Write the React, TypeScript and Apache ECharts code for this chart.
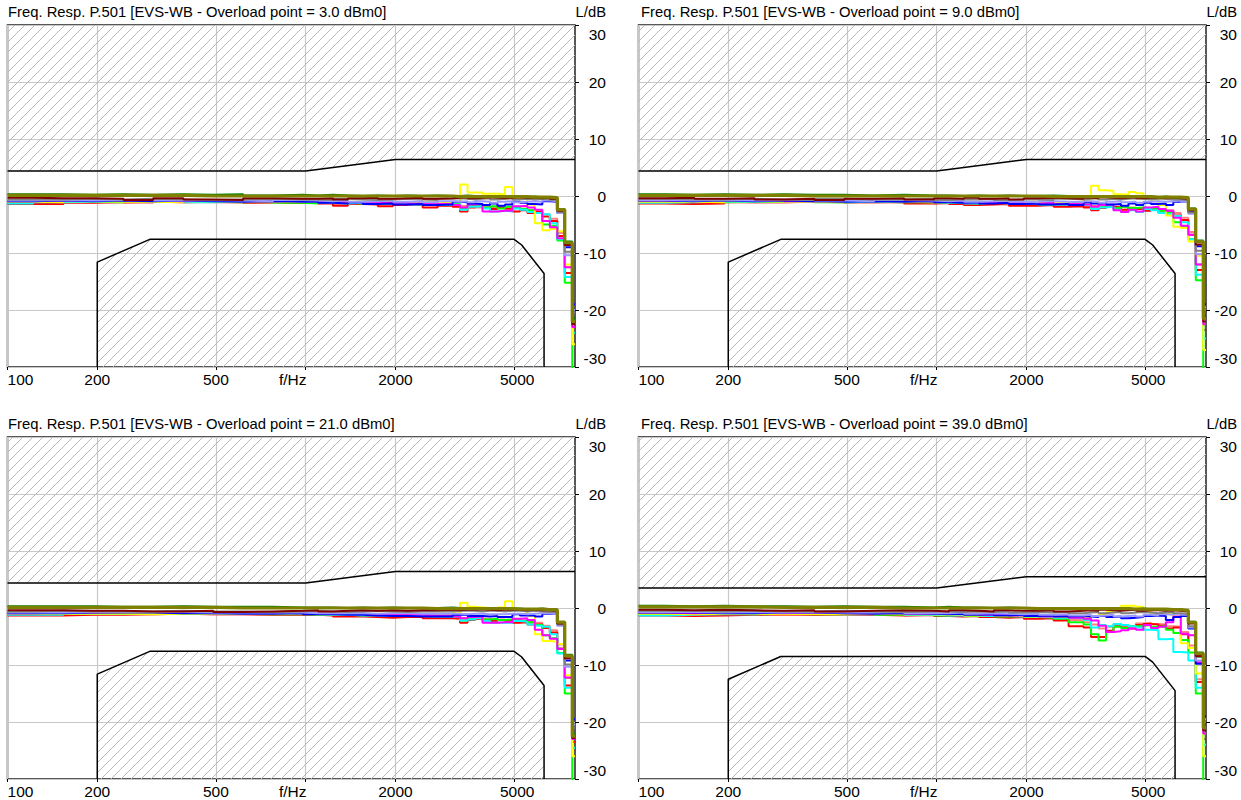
import React, { useEffect, useRef } from 'react';
import * as echarts from 'echarts';

// ---------- axes / layout constants ----------
const F_MIN = 100;
const F_MAX = 8000;
const TICK_HZ = [100, 200, 500, 1000, 2000, 5000];
const FREQ_AXIS_NAME = 'f/Hz';
const Y_MIN = -30;
const Y_MAX = 30;
const Y_STEP = 10;
const OVERLOAD = ['3.0', '9.0', '21.0', '39.0'];

// bin start frequencies (Hz) of the measured step responses
const BIN_HZ = [
  100, 122, 154, 194, 245, 308, 389, 490, 617, 777,
  979, 1100, 1234, 1385, 1554, 1745, 1959, 2198, 2467, 2769,
  3108, 3293, 3489, 3696, 3916, 4149, 4396, 4657, 4934, 5227, 5538, 5867, 6216, 6586, 6977, 7392, 7832,
];

// ---------- tolerance masks ----------
const UPPER_MASK_HZ = [100, 1000, 2000, 8000];
const UPPER_MASK_A = [4.4, 4.4, 6.4, 6.4];
const UPPER_MASK_B = [3.5, 3.5, 5.5, 5.5];
const LOWER_MASK_HZ = [200, 200, 300, 5000, 5300, 6300, 6300];
const LOWER_MASK_A = [-30, -11.6, -7.6, -7.6, -8.6, -13.6, -30];
const LOWER_MASK_B = [-30, -12.5, -8.5, -8.5, -9.5, -14.5, -30];

// ---------- panel 1 (3.0 dBm0) ----------
const P1_SALMON = [-1.2,-1.0,-1.1,-1.0,-1.2,-0.9,-1.1,-1.2,-1.0,-1.1, -1.2,-1.0,-1.4,-1.2,-1.3,-1.2,-1.4,-1.3,-1.6,-1.5, -1.7,-1.8,-1.6,-2.0,-1.8,-2.1,-1.9,-2.3,-2.0,-2.2,-2.4,-2.6,-3.2,-4.0,-6.5,-12.5,-22.0];
const P1_RED = [-1.4,-1.4,-1.2,-1.1,-1.0,-1.1,-1.0,-1.0,-1.2,-1.2, -1.1,-1.3,-1.7,-1.4,-1.5,-1.8,-1.6,-1.5,-2.0,-1.7, -1.9,-2.7,-2.0,-1.8,-2.1,-2.3,-2.0,-2.2,-2.7,-2.5,-3.0,-2.8,-3.6,-4.4,-7.0,-13.5,-23.0];
const P1_GREEN = [-1.0,-0.9,-1.0,-1.1,-0.9,-1.0,-1.0,-1.1,-1.0,-1.2, -1.3,-1.1,-1.2,-1.3,-1.1,-1.4,-1.2,-1.4,-1.3,-1.6, -1.4,-2.3,-1.6,-1.5,-2.0,-1.8,-2.2,-1.9,-2.0,-2.3,-2.5,-3.0,-5.0,-5.2,-7.8,-15.2,-33.0];
const P1_CYAN = [-1.3,-1.1,-1.0,-0.9,-1.0,-0.9,-1.1,-1.0,-1.1,-1.0, -1.1,-1.2,-1.3,-1.2,-1.4,-1.3,-1.3,-1.5,-1.4,-1.5, -1.5,-2.4,-1.9,-1.8,-2.2,-2.7,-2.6,-2.7,-2.2,-2.4,-2.8,-3.0,-3.2,-4.8,-7.6,-14.2,-24.0];
const P1_YELLOW = [-1.0,-1.1,-0.9,-1.0,-1.0,-1.1,-0.9,-1.0,-1.1,-1.0, -1.0,-1.1,-1.2,-1.0,-1.1,-0.9,-1.1,-1.2,-1.0,-1.1, -1.0,2.0,0.6,0.6,0.4,0.4,0.3,1.6,-0.3,-0.5,-1.5,-4.8,-6.0,-5.8,-6.2,-12.0,-26.0];
const P1_MAGENTA = [-0.9,-0.8,-0.7,-0.6,-0.8,-0.9,-0.8,-0.7,-0.9,-0.8, -0.9,-1.0,-0.9,-1.1,-1.0,-1.2,-1.1,-1.3,-1.2,-1.4, -1.6,-2.0,-1.5,-1.4,-2.7,-2.7,-2.6,-2.6,-1.8,-1.7,-2.0,-2.4,-4.4,-5.5,-7.4,-12.5,-23.0];
const P1_BLUE = [-0.9,-0.8,-0.9,-0.8,-0.9,-0.8,-0.9,-1.0,-0.9,-1.0, -1.0,-1.2,-1.3,-1.1,-1.4,-1.3,-1.5,-1.4,-1.6,-1.5, -1.0,-1.1,-1.3,-1.4,-1.6,-1.3,-1.7,-1.5,-1.0,-1.2,-1.4,-1.5,-0.9,-1.0,-3.0,-9.0,-19.0];
const P1_LAVENDER = [-0.8,-0.7,-0.8,-0.7,-0.6,-0.8,-0.7,-0.8,-0.9,-0.7, -0.8,-0.9,-0.8,-1.0,-0.9,-0.8,-1.0,-0.9,-1.1,-0.9, -1.0,-0.9,-1.1,-0.9,-1.0,-1.2,-1.0,-0.9,-1.1,-1.0,-0.9,-1.0,-0.8,-0.9,-3.0,-10.4,-20.0];
const P1_GRAY = [-0.6,-0.6,-0.5,-0.6,-0.5,-0.6,-0.7,-0.6,-0.5,-0.6, -0.6,-0.7,-0.5,-0.6,-0.7,-0.6,-0.5,-0.6,-0.7,-0.5, -0.4,-0.5,-0.6,-0.5,-0.4,-0.6,-0.5,-0.4,-0.6,-0.5,-0.6,-0.5,-0.6,-0.7,-2.8,-9.8,-20.5];
const P1_DARKRED = [-0.3,-0.4,-0.4,-0.5,-0.7,-0.4,-0.6,-0.7,-0.4,-0.5, -0.5,-0.4,-0.6,-0.4,-0.3,-0.5,-0.4,-0.3,-0.5,-0.4, -0.3,-0.2,-0.4,-0.3,-0.2,-0.3,-0.4,-0.3,-0.2,-0.3,-0.3,-0.4,-0.3,-0.5,-2.6,-8.6,-22.5];
const P1_DARKGREEN = [0.3,0.3,0.2,0.3,0.2,0.3,0.2,0.3,0.1,0.2, 0.1,0.2,0.1,0.0,0.1,0.0,0.1,0.0,0.1,0.0, 0.0,0.1,0.0,-0.1,0.0,-0.1,0.0,-0.1,-0.1,-0.2,-0.1,-0.2,-0.2,-0.3,-2.3,-8.0,-21.5];
const P1_OLIVE = [0.1,0.1,0.1,0.1,0.1,0.1,0.0,0.0,0.0,0.0, 0.0,0.0,0.0,0.0,0.0,0.0,0.0,0.0,0.0,0.0, -0.1,-0.1,-0.1,-0.1,-0.1,-0.1,-0.1,-0.1,-0.1,-0.1,-0.2,-0.2,-0.2,-0.3,-2.4,-8.2,-22.0];

// ---------- panel 2 (9.0 dBm0) ----------
const P2_SALMON = [-1.1,-1.1,-1.0,-1.1,-1.1,-1.0,-1.0,-1.2,-1.1,-1.0, -1.3,-1.1,-1.3,-1.3,-1.2,-1.3,-1.5,-1.4,-1.5,-1.6, -1.8,-1.7,-1.7,-1.9,-1.9,-2.0,-2.0,-2.2,-2.1,-2.1,-2.5,-2.5,-3.0,-3.8,-6.3,-12.0,-22.0];
const P2_RED = [-1.3,-1.4,-1.3,-1.1,-1.1,-1.0,-1.1,-1.0,-1.1,-1.3, -1.2,-1.4,-1.6,-1.5,-1.4,-1.7,-1.7,-1.6,-1.9,-1.8, -2.0,-2.5,-2.1,-1.9,-2.0,-2.4,-2.1,-2.3,-2.6,-2.4,-2.9,-2.7,-3.4,-4.2,-6.8,-13.0,-23.5];
const P2_GREEN = [-0.9,-1.0,-1.1,-1.0,-1.0,-0.9,-1.1,-1.0,-1.1,-1.1, -1.2,-1.2,-1.3,-1.2,-1.2,-1.3,-1.3,-1.5,-1.4,-1.5, -1.5,-2.2,-1.7,-1.6,-2.1,-1.9,-2.1,-2.0,-2.1,-2.2,-2.6,-2.9,-4.6,-5.4,-7.6,-14.8,-32.0];
const P2_CYAN = [-1.2,-1.1,-1.0,-1.0,-0.9,-1.0,-1.1,-1.0,-1.0,-1.1, -1.2,-1.1,-1.3,-1.2,-1.3,-1.4,-1.3,-1.5,-1.5,-1.6, -1.6,-2.3,-2.0,-1.9,-2.4,-2.8,-2.5,-2.8,-2.3,-2.5,-3.0,-3.2,-3.5,-4.6,-7.6,-13.8,-25.0];
const P2_YELLOW = [-1.0,-1.0,-1.1,-0.9,-1.0,-1.0,-1.1,-0.9,-1.0,-1.1, -1.1,-1.0,-1.1,-1.2,-1.0,-1.1,-1.0,-1.2,-1.1,-1.0, -0.8,1.8,1.0,0.9,0.3,0.2,0.7,0.5,-0.4,-0.6,-1.6,-3.4,-5.4,-5.6,-8.0,-10.5,-27.0];
const P2_MAGENTA = [-0.8,-0.9,-0.7,-0.8,-0.7,-0.9,-0.8,-0.9,-0.8,-0.9, -1.0,-0.9,-1.1,-1.0,-1.2,-1.1,-1.3,-1.2,-1.4,-1.3, -1.5,-1.9,-1.6,-1.5,-2.5,-2.8,-2.4,-2.7,-2.0,-1.9,-2.3,-2.6,-3.8,-5.2,-6.8,-12.0,-22.5];
const P2_BLUE = [-0.8,-0.9,-0.8,-0.9,-0.8,-0.9,-1.0,-0.9,-1.0,-0.9, -1.1,-1.2,-1.1,-1.3,-1.2,-1.4,-1.3,-1.5,-1.4,-1.6, -1.1,-1.3,-1.2,-1.5,-1.4,-1.7,-1.3,-1.6,-1.2,-1.4,-1.3,-1.6,-1.0,-0.9,-2.8,-8.8,-19.0];
const P2_LAVENDER = [-0.7,-0.8,-0.7,-0.8,-0.7,-0.6,-0.8,-0.9,-0.7,-0.8, -0.9,-0.8,-1.0,-0.9,-0.8,-1.0,-1.1,-0.9,-1.0,-1.1, -0.9,-1.0,-1.2,-1.0,-0.9,-1.1,-1.0,-1.2,-1.0,-0.9,-1.0,-0.9,-0.8,-1.0,-3.1,-10.2,-19.5];
const P2_GRAY = [-0.5,-0.6,-0.6,-0.5,-0.6,-0.7,-0.5,-0.6,-0.6,-0.5, -0.7,-0.6,-0.6,-0.5,-0.7,-0.6,-0.6,-0.7,-0.5,-0.6, -0.5,-0.4,-0.6,-0.5,-0.6,-0.5,-0.4,-0.5,-0.6,-0.5,-0.5,-0.6,-0.6,-0.7,-2.9,-9.6,-20.0];
const P2_DARKRED = [-0.4,-0.3,-0.5,-0.4,-0.6,-0.5,-0.7,-0.5,-0.4,-0.6, -0.4,-0.5,-0.3,-0.5,-0.4,-0.6,-0.4,-0.3,-0.4,-0.5, -0.3,-0.4,-0.2,-0.3,-0.4,-0.3,-0.2,-0.4,-0.3,-0.3,-0.4,-0.3,-0.4,-0.5,-2.5,-8.5,-22.0];
const P2_DARKGREEN = [0.3,0.2,0.3,0.2,0.3,0.2,0.2,0.1,0.2,0.1, 0.1,0.0,0.1,0.0,0.1,0.0,0.0,0.1,0.0,0.0, 0.0,-0.1,0.0,-0.1,0.0,-0.1,-0.1,0.0,-0.1,-0.2,-0.1,-0.2,-0.2,-0.3,-2.2,-7.8,-21.0];
const P2_OLIVE = [0.1,0.1,0.1,0.1,0.1,0.0,0.0,0.0,0.0,0.0, 0.0,0.0,0.0,0.0,0.0,0.0,0.0,-0.1,-0.1,-0.1, -0.1,-0.1,-0.1,-0.1,-0.1,-0.1,-0.1,-0.1,-0.1,-0.2,-0.2,-0.2,-0.2,-0.3,-2.3,-8.0,-21.5];

// ---------- panel 3 (21.0 dBm0) ----------
const P3_SALMON = [-1.1,-1.1,-1.1,-1.0,-1.1,-1.0,-1.1,-1.1,-1.1,-1.1, -1.2,-1.1,-1.3,-1.3,-1.3,-1.3,-1.4,-1.4,-1.5,-1.5, -1.7,-1.8,-1.7,-1.9,-1.9,-2.0,-2.0,-2.2,-2.1,-2.2,-2.4,-2.6,-3.1,-3.9,-6.4,-12.3,-22.0];
const P3_RED = [-1.3,-1.3,-1.2,-1.2,-1.1,-1.0,-1.1,-1.1,-1.2,-1.2, -1.2,-1.3,-1.5,-1.5,-1.6,-1.7,-1.6,-1.6,-1.8,-1.8, -1.9,-2.6,-2.1,-1.9,-2.1,-2.3,-2.1,-2.3,-2.6,-2.5,-2.9,-2.9,-3.5,-4.3,-7.1,-13.6,-23.5];
const P3_GREEN = [-1.0,-1.0,-1.0,-1.0,-1.0,-1.0,-1.0,-1.0,-1.1,-1.1, -1.2,-1.2,-1.2,-1.3,-1.2,-1.3,-1.3,-1.4,-1.4,-1.5, -1.5,-2.2,-1.7,-1.6,-2.0,-1.9,-2.1,-2.0,-2.0,-2.3,-2.5,-3.0,-4.8,-5.3,-7.9,-15.0,-33.0];
const P3_CYAN = [-1.2,-1.2,-1.0,-1.0,-1.0,-0.9,-1.0,-1.0,-1.0,-1.0, -1.1,-1.2,-1.2,-1.3,-1.3,-1.4,-1.4,-1.4,-1.5,-1.5, -1.5,-2.2,-2.0,-1.8,-2.3,-2.6,-2.6,-2.6,-2.3,-2.4,-2.9,-3.1,-3.3,-4.6,-8.0,-14.0,-24.5];
const P3_YELLOW = [-1.0,-1.0,-1.0,-1.0,-1.1,-1.0,-1.0,-1.0,-1.0,-1.0, -1.1,-1.1,-1.1,-1.1,-1.0,-1.0,-1.1,-1.1,-1.1,-1.1, -0.9,0.9,0.2,0.1,0.0,-0.1,0.1,1.2,-0.2,-0.4,-1.4,-4.6,-5.8,-5.9,-6.3,-11.8,-26.0];
const P3_MAGENTA = [-0.9,-0.8,-0.8,-0.7,-0.7,-0.8,-0.9,-0.8,-0.8,-0.9, -0.9,-1.0,-1.0,-1.0,-1.1,-1.1,-1.2,-1.2,-1.3,-1.3, -1.5,-1.8,-1.6,-1.5,-2.6,-2.6,-2.5,-2.5,-1.9,-1.8,-2.1,-3.8,-4.8,-5.4,-7.2,-12.2,-23.0];
const P3_BLUE = [-0.9,-0.9,-0.8,-0.8,-0.8,-0.9,-0.9,-1.0,-1.0,-0.9, -1.1,-1.1,-1.2,-1.2,-1.3,-1.4,-1.4,-1.5,-1.5,-1.5, -1.2,-1.2,-1.4,-1.4,-1.5,-1.4,-1.6,-1.6,-1.1,-1.3,-1.3,-1.5,-1.0,-0.9,-2.9,-9.2,-19.5];
const P3_LAVENDER = [-0.8,-0.8,-0.7,-0.7,-0.7,-0.7,-0.8,-0.8,-0.8,-0.8, -0.9,-0.9,-0.9,-0.9,-1.0,-0.9,-0.9,-1.0,-1.0,-1.0, -1.0,-1.1,-1.0,-1.0,-1.1,-1.1,-1.1,-1.0,-1.0,-1.1,-1.0,-0.9,-0.9,-0.9,-3.1,-10.3,-20.5];
const P3_GRAY = [-0.6,-0.5,-0.6,-0.6,-0.6,-0.5,-0.6,-0.6,-0.7,-0.6, -0.5,-0.6,-0.7,-0.6,-0.5,-0.6,-0.7,-0.6,-0.6,-0.6, -0.5,-0.5,-0.5,-0.6,-0.5,-0.5,-0.6,-0.5,-0.5,-0.6,-0.5,-0.6,-0.7,-0.7,-2.9,-9.9,-21.0];
const P3_DARKRED = [-0.4,-0.4,-0.5,-0.5,-0.6,-0.6,-0.5,-0.7,-0.6,-0.5, -0.4,-0.6,-0.5,-0.4,-0.5,-0.4,-0.5,-0.4,-0.4,-0.3, -0.4,-0.3,-0.3,-0.2,-0.3,-0.4,-0.3,-0.3,-0.3,-0.4,-0.3,-0.4,-0.4,-0.5,-2.7,-8.8,-22.8];
const P3_DARKGREEN = [0.3,0.3,0.3,0.2,0.2,0.3,0.2,0.2,0.2,0.1, 0.1,0.1,0.0,0.1,0.0,0.1,0.0,0.0,0.0,0.1, 0.0,0.0,-0.1,0.0,-0.1,0.0,-0.1,-0.1,-0.1,-0.2,-0.2,-0.1,-0.2,-0.3,-2.4,-8.2,-22.0];
const P3_OLIVE = [0.1,0.1,0.1,0.1,0.1,0.1,0.1,0.0,0.0,0.0, 0.0,0.0,0.0,0.0,0.0,0.0,0.0,0.0,-0.1,-0.1, -0.1,-0.1,-0.1,-0.1,-0.1,-0.1,-0.1,-0.1,-0.2,-0.2,-0.2,-0.2,-0.3,-0.3,-2.5,-8.4,-22.5];

// ---------- panel 4 (39.0 dBm0) ----------
const P4_SALMON = [-1.2,-1.1,-1.2,-1.1,-1.2,-1.1,-1.2,-1.2,-1.1,-1.3, -1.3,-1.4,-1.3,-1.5,-1.5,-1.6,-1.7,-1.6,-1.9,-2.1, -2.5,-2.9,-3.6,-3.3,-2.8,-3.1,-3.2,-2.7,-2.6,-2.8,-2.9,-3.2,-3.3,-4.2,-6.6,-12.5,-22.0];
const P4_RED = [-1.3,-1.4,-1.3,-1.2,-1.1,-1.2,-1.1,-1.2,-1.3,-1.2, -1.4,-1.5,-1.4,-1.6,-1.7,-1.6,-1.9,-1.8,-2.2,-3.2, -3.4,-5.1,-5.1,-4.0,-3.2,-3.4,-3.6,-3.0,-2.8,-2.9,-3.1,-3.6,-3.4,-4.6,-7.0,-13.0,-23.0];
const P4_GREEN = [-1.1,-1.0,-1.0,-1.1,-1.0,-1.1,-1.1,-1.0,-1.2,-1.1, -1.3,-1.2,-1.4,-1.3,-1.5,-1.4,-1.6,-1.7,-1.9,-2.5, -2.9,-4.6,-5.7,-4.2,-3.3,-3.5,-3.2,-3.1,-3.0,-3.3,-3.2,-3.8,-4.4,-5.6,-7.8,-15.0,-32.0];
const P4_CYAN = [-1.3,-1.2,-1.1,-1.1,-1.0,-1.0,-1.1,-1.1,-1.0,-1.2, -1.3,-1.3,-1.2,-1.4,-1.4,-1.5,-1.6,-1.5,-1.7,-1.8, -2.1,-3.4,-3.0,-3.2,-2.8,-3.0,-3.2,-3.4,-3.8,-3.9,-5.5,-5.4,-7.7,-7.8,-9.2,-14.0,-24.0];
const P4_YELLOW = [-1.0,-1.1,-1.0,-1.0,-1.1,-1.0,-1.1,-1.0,-1.1,-1.1, -1.2,-1.1,-1.3,-1.2,-1.4,-1.3,-1.5,-1.4,-1.6,-1.5, -1.7,-1.4,-1.2,-0.6,-0.4,0.4,0.4,0.2,-0.6,-1.2,-1.0,-1.1,-1.5,-6.2,-7.0,-11.5,-26.0];
const P4_MAGENTA = [-0.8,-0.9,-0.8,-0.8,-0.9,-0.8,-0.9,-0.9,-0.8,-1.0, -1.0,-1.1,-1.0,-1.2,-1.1,-1.3,-1.2,-1.5,-1.4,-1.7, -1.9,-2.2,-3.1,-4.2,-4.1,-3.9,-3.6,-3.8,-3.0,-3.5,-3.3,-2.5,-1.5,-4.5,-4.8,-9.5,-22.0];
const P4_BLUE = [-0.8,-0.8,-0.9,-0.9,-0.8,-0.8,-0.9,-1.0,-0.9,-1.0, -1.1,-1.0,-1.2,-1.1,-1.3,-1.2,-1.4,-1.3,-1.5,-1.4, -1.5,-1.6,-1.4,-1.6,-1.5,-1.8,-1.7,-1.6,-1.4,-1.3,-1.4,-2.1,-1.6,-1.4,-3.6,-9.8,-19.0];
const P4_LAVENDER = [-0.7,-0.7,-0.8,-0.7,-0.8,-0.7,-0.8,-0.8,-0.7,-0.9, -0.9,-0.8,-1.0,-0.9,-1.0,-1.1,-1.0,-1.2,-1.1,-1.3, -1.2,-1.4,-1.3,-1.2,-1.5,-1.4,-1.3,-1.5,-1.2,-1.3,-1.1,-1.2,-1.0,-1.2,-3.4,-9.2,-19.5];
const P4_GRAY = [-0.5,-0.5,-0.6,-0.5,-0.6,-0.6,-0.5,-0.6,-0.7,-0.6, -0.6,-0.7,-0.6,-0.7,-0.6,-0.8,-0.7,-0.8,-0.7,-0.9, -0.8,-0.7,-0.9,-0.8,-0.7,-0.9,-0.8,-0.7,-0.8,-0.9,-0.8,-0.7,-0.9,-1.0,-3.2,-8.6,-20.0];
const P4_DARKRED = [-0.3,-0.4,-0.3,-0.4,-0.5,-0.4,-0.6,-0.5,-0.4,-0.5, -0.6,-0.4,-0.5,-0.6,-0.4,-0.5,-0.5,-0.4,-0.6,-0.5, -0.4,-0.5,-0.3,-0.4,-0.5,-0.4,-0.3,-0.5,-0.4,-0.4,-0.5,-0.4,-0.5,-0.6,-2.7,-8.4,-21.5];
const P4_DARKGREEN = [0.4,0.3,0.4,0.3,0.3,0.2,0.3,0.2,0.2,0.1, 0.2,0.1,0.1,0.0,0.1,0.0,0.0,-0.1,0.0,-0.1, -0.1,0.0,-0.1,-0.1,0.0,-0.1,-0.2,-0.1,-0.2,-0.2,-0.3,-0.2,-0.3,-0.4,-2.4,-7.8,-20.5];
const P4_OLIVE = [0.2,0.2,0.2,0.2,0.1,0.1,0.1,0.1,0.0,0.0, 0.0,0.0,0.0,0.0,0.0,0.0,-0.1,-0.1,-0.1,-0.1, -0.1,-0.1,-0.1,-0.1,-0.1,-0.1,-0.2,-0.2,-0.2,-0.2,-0.2,-0.3,-0.3,-0.4,-2.5,-8.0,-21.0];

// draw order and styling of the measurement curves
const CURVE_COLORS = ['#ff8080', '#ff0000', '#00ff00', '#00ffff', '#ffff00', '#ff00ff', '#0000ff', '#9999ff', '#808080', '#800000', '#008000', '#808000'];
const CURVE_WIDTHS = [2, 2, 2, 2, 2, 2, 2, 2, 2, 2, 2, 3.2];

const PANELS = [
  [P1_SALMON, P1_RED, P1_GREEN, P1_CYAN, P1_YELLOW, P1_MAGENTA, P1_BLUE, P1_LAVENDER, P1_GRAY, P1_DARKRED, P1_DARKGREEN, P1_OLIVE],
  [P2_SALMON, P2_RED, P2_GREEN, P2_CYAN, P2_YELLOW, P2_MAGENTA, P2_BLUE, P2_LAVENDER, P2_GRAY, P2_DARKRED, P2_DARKGREEN, P2_OLIVE],
  [P3_SALMON, P3_RED, P3_GREEN, P3_CYAN, P3_YELLOW, P3_MAGENTA, P3_BLUE, P3_LAVENDER, P3_GRAY, P3_DARKRED, P3_DARKGREEN, P3_OLIVE],
  [P4_SALMON, P4_RED, P4_GREEN, P4_CYAN, P4_YELLOW, P4_MAGENTA, P4_BLUE, P4_LAVENDER, P4_GRAY, P4_DARKRED, P4_DARKGREEN, P4_OLIVE],
];
const PANEL_UPPER = [UPPER_MASK_A, UPPER_MASK_A, UPPER_MASK_A, UPPER_MASK_B];
const PANEL_LOWER = [LOWER_MASK_A, LOWER_MASK_A, LOWER_MASK_A, LOWER_MASK_B];

// layout
const GRID_LEFT = [7.5, 638.5, 7.5, 638.5];
const GRID_TOP = [25, 25, 437, 437];
const GRID_W = 567.5;
const GRID_H = 342;
const TITLE_LEFT = [8, 641, 8, 641];
const TITLE_TOP = [4, 4, 416, 416];
const UNIT_RIGHT = [635, 4, 635, 4];

const FONT = '"Liberation Sans", Arial, Helvetica, sans-serif';
const GRID_COLOR = '#c8c8c8';
const HATCH_COLOR = '#b8b8b8';

function makeHatch(): HTMLCanvasElement {
  const c = document.createElement('canvas');
  c.width = 10;
  c.height = 10;
  const ctx = c.getContext('2d');
  if (ctx) {
    ctx.strokeStyle = HATCH_COLOR;
    ctx.lineWidth = 1;
    ctx.beginPath();
    ctx.moveTo(0, 10);
    ctx.lineTo(10, 0);
    ctx.stroke();
  }
  return c;
}

export default function App() {
  const ref = useRef<HTMLDivElement>(null);

  useEffect(() => {
    if (!ref.current) return;
    const chart = echarts.init(ref.current, null, { renderer: 'svg', width: 1241, height: 800 });
    const hatch = makeHatch();
    const pattern: any = { image: hatch, repeat: 'repeat', imageWidth: 10, imageHeight: 10 };
    const tickExp = TICK_HZ.map((f) => Math.log10(f));

    const txt = (extra: any = {}) => ({ fontSize: 15.5, fontFamily: FONT, color: '#000', ...extra });

    const grids: any[] = [];
    const xAxes: any[] = [];
    const yAxes: any[] = [];
    const series: any[] = [];
    const titles: any[] = [];

    for (let p = 0; p < 4; p++) {
      grids.push({
        left: GRID_LEFT[p], top: GRID_TOP[p], width: GRID_W, height: GRID_H,
        show: true, borderColor: '#222', borderWidth: 1.5, backgroundColor: 'transparent',
        containLabel: false, outerBoundsMode: 'none',
      });
      // data axis (log frequency), hidden
      xAxes.push({
        type: 'log', logBase: 10, gridIndex: p, min: F_MIN, max: F_MAX, show: false, position: 'top',
      });
      // visible tick/label/grid axis on log10(f)
      xAxes.push({
        type: 'value', gridIndex: p, position: 'bottom',
        min: Math.log10(F_MIN), max: Math.log10(F_MAX),
        axisLine: { show: false },
        axisTick: { show: true, customValues: tickExp, length: 3, lineStyle: { color: '#000' } },
        splitLine: { show: true, lineStyle: { color: GRID_COLOR, width: 1.2 } },
        axisLabel: {
          customValues: tickExp, margin: 4, showMinLabel: true, showMaxLabel: true, hideOverlap: false,
          formatter: (v: number) => {
            const hz = Math.round(Math.pow(10, v));
            if (hz === 100) return '{l|100}';
            if (hz === 1000) return '{c|' + FREQ_AXIS_NAME + '}';
            if (hz === 5000) return '{r|5000}';
            return '{n|' + hz + '}';
          },
          rich: {
            n: txt(),
            l: txt({ padding: [0, 0, 0, 26] }),
            c: txt({ padding: [0, 26, 0, 0] }),
            r: txt({ padding: [0, 0, 0, 6] }),
          },
        },
      });
      yAxes.push({
        type: 'value', gridIndex: p, position: 'right', min: Y_MIN, max: Y_MAX, interval: Y_STEP,
        axisLine: { show: false },
        axisTick: { show: true, length: 4, lineStyle: { color: '#000' } },
        splitLine: { show: true, lineStyle: { color: GRID_COLOR, width: 1.2 } },
        axisLabel: {
          align: 'right', margin: 31, showMinLabel: true, showMaxLabel: true,
          formatter: (v: number) => {
            if (v === Y_MAX) return '{t|' + v + '}';
            if (v === Y_MIN) return '{b|' + v + '}';
            return '{n|' + v + '}';
          },
          rich: {
            n: txt(),
            t: txt({ padding: [18, 0, 0, 0] }),
            b: txt({ padding: [0, 0, 18, 0] }),
          },
        },
      });

      titles.push({
        text: 'Freq. Resp. P.501 [EVS-WB - Overload point = ' + OVERLOAD[p] + ' dBm0]',
        left: TITLE_LEFT[p], top: TITLE_TOP[p], padding: 0,
        textStyle: { fontSize: 14.8, fontWeight: 'normal', fontFamily: FONT, color: '#000' },
      });
      titles.push({
        text: 'L/dB', right: UNIT_RIGHT[p], top: TITLE_TOP[p], padding: 0,
        textStyle: { fontSize: 14.8, fontWeight: 'normal', fontFamily: FONT, color: '#000' },
      });

      // masks
      const up = PANEL_UPPER[p];
      series.push({
        type: 'line', xAxisIndex: 2 * p, yAxisIndex: p, silent: true, symbol: 'none', z: 1,
        data: UPPER_MASK_HZ.map((f, i) => [f, up[i]]),
        lineStyle: { color: '#000', width: 1.5 },
        areaStyle: { color: pattern, origin: 'end', opacity: 1 },
      });
      const lo = PANEL_LOWER[p];
      series.push({
        type: 'line', xAxisIndex: 2 * p, yAxisIndex: p, silent: true, symbol: 'none', z: 1,
        data: LOWER_MASK_HZ.map((f, i) => [f, lo[i]]),
        lineStyle: { color: '#000', width: 1.5 },
        areaStyle: { color: pattern, origin: 'start', opacity: 1 },
      });

      // measured curves
      PANELS[p].forEach((vals, k) => {
        const data = BIN_HZ.map((f, i) => [f, vals[i]]);
        data.push([F_MAX, vals[vals.length - 1]]);
        series.push({
          type: 'line', xAxisIndex: 2 * p, yAxisIndex: p, silent: true, symbol: 'none', step: 'end',
          z: 3 + k, data,
          lineStyle: { color: CURVE_COLORS[k], width: CURVE_WIDTHS[k] },
        });
      });
    }

    chart.setOption({
      animation: false,
      backgroundColor: '#fff',
      textStyle: { fontFamily: FONT },
      title: titles,
      grid: grids,
      xAxis: xAxes,
      yAxis: yAxes,
      series,
    });

    return () => chart.dispose();
  }, []);

  return <div ref={ref} style={{ position: 'absolute', left: 0, top: 0, width: 1241, height: 800 }} />;
}
